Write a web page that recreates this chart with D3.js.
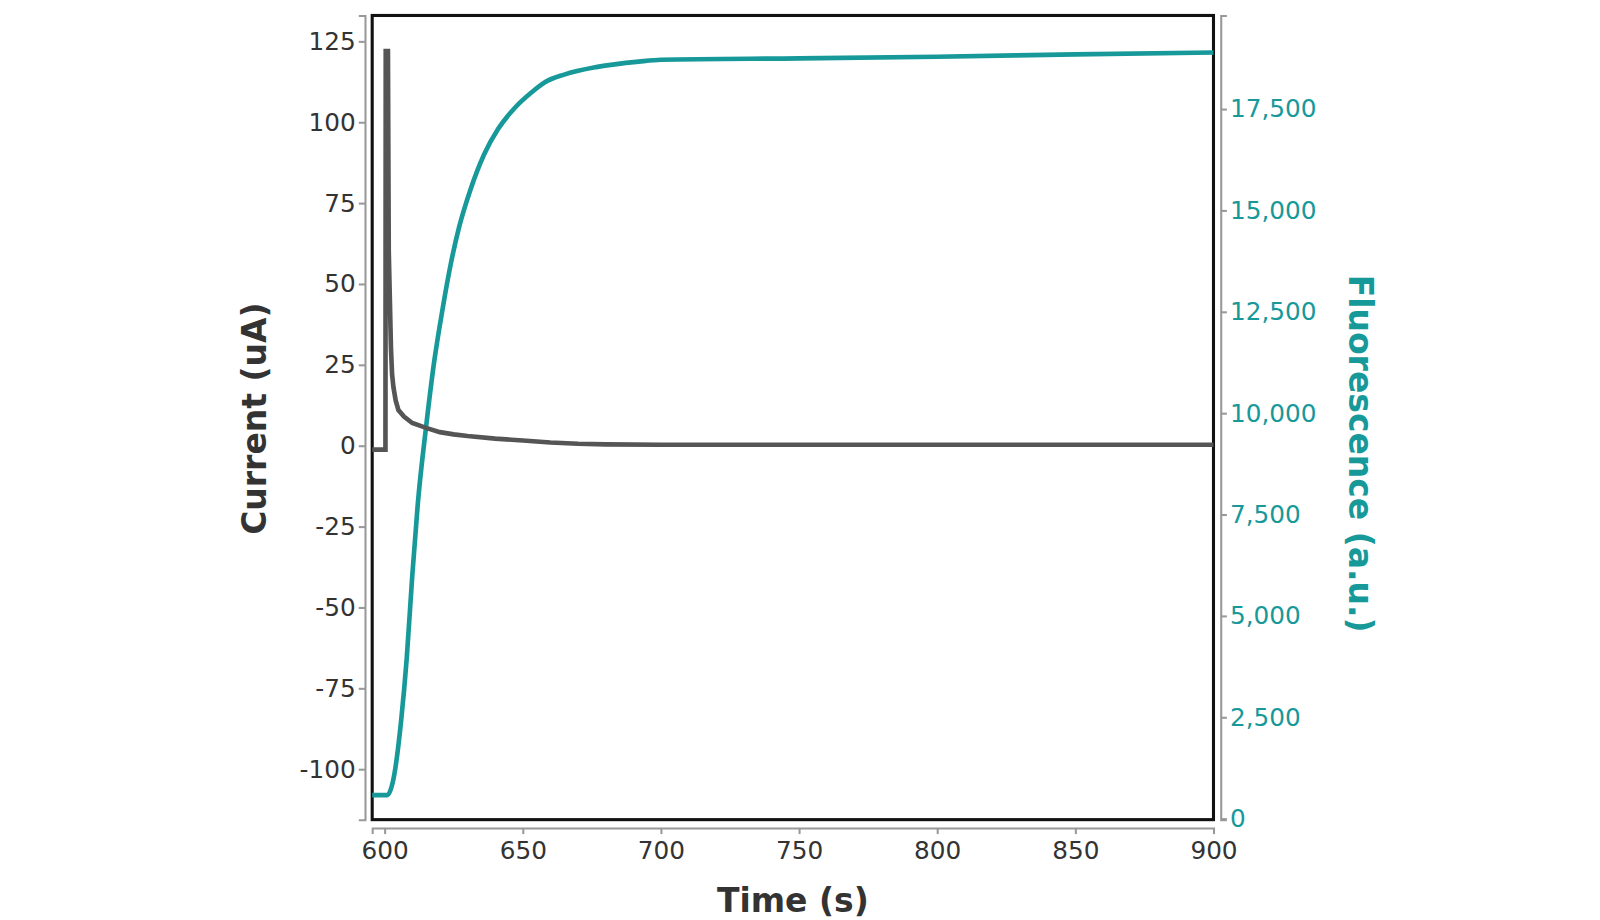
<!DOCTYPE html>
<html><head><meta charset="utf-8">
<script src="https://cdn.jsdelivr.net/npm/d3@7"></script>
<style>body{margin:0;background:#fff}text{font-family:"DejaVu Sans",sans-serif}</style>
</head><body><div id="chart"></div>
<script>
// current trace (s, uA)
var curT = [595.5, 600.3, 600.4, 601.2, 601.5, 601.9, 602.3, 602.7, 603.2, 604, 605, 607, 610, 615, 620, 625, 630, 640, 650, 660, 670, 680, 700, 750, 800, 900];
var curV = [-1.2, -1.2, 122, 122, 60, 45, 30, 22, 18, 14, 11, 9, 7, 5.5, 4.2, 3.5, 3, 2.2, 1.6, 1, 0.6, 0.4, 0.3, 0.3, 0.3, 0.3];
// fluorescence trace (s, a.u.)
var fluT = [595.5, 601, 603, 606, 608, 610, 612, 615, 618, 621, 624, 627, 631, 636, 641, 647, 653, 658, 665, 677, 692, 700, 750, 800, 850, 900];
var fluV = [580, 580, 913, 2435, 3956, 5985, 7760, 9660, 11300, 12580, 13700, 14600, 15500, 16380, 17000, 17520, 17900, 18160, 18350, 18540, 18670, 18715, 18750, 18790, 18850, 18895];
var xTicks = [600, 650, 700, 750, 800, 850, 900];
var yTicks = [-100, -75, -50, -25, 0, 25, 50, 75, 100, 125];
var y2Ticks = [0, 2500, 5000, 7500, 10000, 12500, 15000, 17500];

var grey = "#555", teal = "#17999a";
var svg = d3.select("#chart").append("svg").attr("width", 1600).attr("height", 920)
  .append("g").attr("transform", "scale(1.031)");
var L = 361, R = 1177, T = 15, B = 795;

var x = d3.scaleLinear().domain([595.5, 900]).range([L, R]);
var y = d3.scaleLinear().domain([-115.6, 133]).range([B, T]);
var y2 = d3.scaleLinear().domain([-25, 19808]).range([B, T]);

var fmtY = function(d){ return String(d); };

// axes
var xa = svg.append("g").attr("transform", "translate(0,803)")
  .call(d3.axisBottom(x).tickValues(xTicks).tickFormat(fmtY).tickSizeOuter(0).tickSize(6));
var ya = svg.append("g").attr("transform", "translate(354,0)")
  .call(d3.axisLeft(y).tickValues(yTicks).tickFormat(fmtY).tickSizeOuter(0).tickSize(6));
var y2a = svg.append("g").attr("transform", "translate(1184,0)")
  .call(d3.axisRight(y2).tickValues(y2Ticks).tickFormat(d3.format(",")).tickSizeOuter(0).tickSize(6));
[xa, ya, y2a].forEach(function(g){
  g.selectAll("path,line").attr("stroke", "#999").attr("stroke-width", 2);
  g.selectAll("text").attr("font-size", 24);
});
xa.selectAll("text").attr("fill", "#333").attr("dy", "0.9em");
ya.selectAll("text").attr("fill", "#333");
y2a.selectAll("text").attr("fill", teal);

// frame
svg.append("rect").attr("x", L).attr("y", T).attr("width", R - L).attr("height", B - T)
  .attr("fill", "none").attr("stroke", "#111").attr("stroke-width", 3);

var cur = curT.map(function(t, i){ return [t, curV[i]]; });
var flu = fluT.map(function(t, i){ return [t, fluV[i]]; });

svg.append("path").datum(flu).attr("fill", "none").attr("stroke", teal).attr("stroke-width", 4.5)
  .attr("d", d3.line().curve(d3.curveMonotoneX).x(function(d){ return x(d[0]); }).y(function(d){ return y2(d[1]); }));
svg.append("path").datum(cur).attr("fill", "none").attr("stroke", grey).attr("stroke-width", 4.5)
  .attr("d", d3.line().curve(d3.curveLinear).x(function(d){ return x(d[0]); }).y(function(d){ return y(d[1]); }));

// labels
svg.append("text").attr("x", 769).attr("y", 885).attr("text-anchor", "middle")
  .attr("font-size", 32).attr("font-weight", "bold").attr("fill", "#333").text("Time (s)");
svg.append("text").attr("transform", "translate(258,406) rotate(-90)").attr("text-anchor", "middle")
  .attr("font-size", 32).attr("font-weight", "bold").attr("fill", "#333").text("Current (uA)");
svg.append("text").attr("transform", "translate(1308,440) rotate(90)").attr("text-anchor", "middle")
  .attr("font-size", 32).attr("font-weight", "bold").attr("fill", teal).text("Fluorescence (a.u.)");
</script></body></html>
